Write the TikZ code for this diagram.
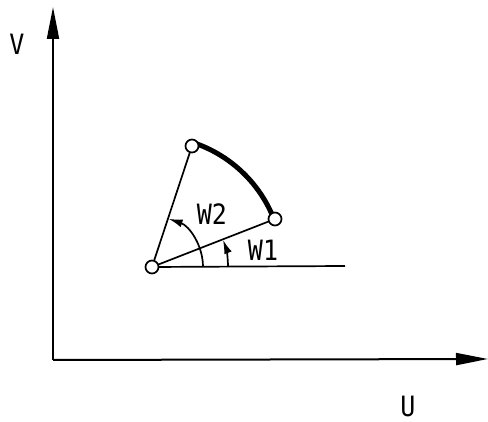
\documentclass[tikz,border=0pt]{standalone}
\usepackage{fontspec}
\setmainfont{DejaVu Sans Mono}
\usetikzlibrary{arrows.meta}
\newcommand{\tallbox}[1]{\scalebox{1}[1.12]{#1}}
\begin{document}
\begin{tikzpicture}[x=1pt,y=-1pt,
  thinline/.style={line width=1.7pt},
  pt/.style={circle,draw,fill=white,line width=1.7pt,minimum size=13pt,inner sep=0pt},
  lbl/.style={font=\fontsize{25}{25}\selectfont,inner sep=0pt},
  axistip/.style={-{Triangle[length=32pt,width=12pt]}},
  angtip/.style={-{Latex[length=14pt,width=8pt]}}]
\useasboundingbox (0,0) rectangle (488,422);
\coordinate (O0) at (53,360);
\coordinate (Vend) at (53,7);
\coordinate (Uend) at (488,359);
\draw[line width=2pt,axistip] (O0) -- (Vend);
\draw[line width=2pt,axistip] (O0) -- (Uend);
\node[lbl] (V) at (17,44) {\tallbox{V}};
\node[lbl] (U) at (408,406) {\tallbox{U}};
\coordinate (O) at (152,267);
\coordinate (H) at (345,266);
\coordinate (A) at (275,219);
\coordinate (B) at (192,146);
\draw[thinline] (O) -- (H);
\draw[thinline] (O) -- (A);
\draw[thinline] (O) -- (B);
\draw[line width=5pt] (O) ++(-21.3:131) arc[start angle=-21.3,end angle=-71.7,radius=131];
\draw[thinline,angtip] (O) ++(51,0) arc[start angle=0,end angle=-71,radius=51];
\draw[thinline,angtip] (O) ++(76,0) arc[start angle=0,end angle=-21,radius=76];
\node[lbl] (W2) at (212,214) {\tallbox{W2}};
\node[lbl] (W1) at (263,250) {\tallbox{W1}};
\node[pt] (o) at (O) {};
\node[pt] (a) at (A) {};
\node[pt] (b) at (B) {};
\end{tikzpicture}
\end{document}
